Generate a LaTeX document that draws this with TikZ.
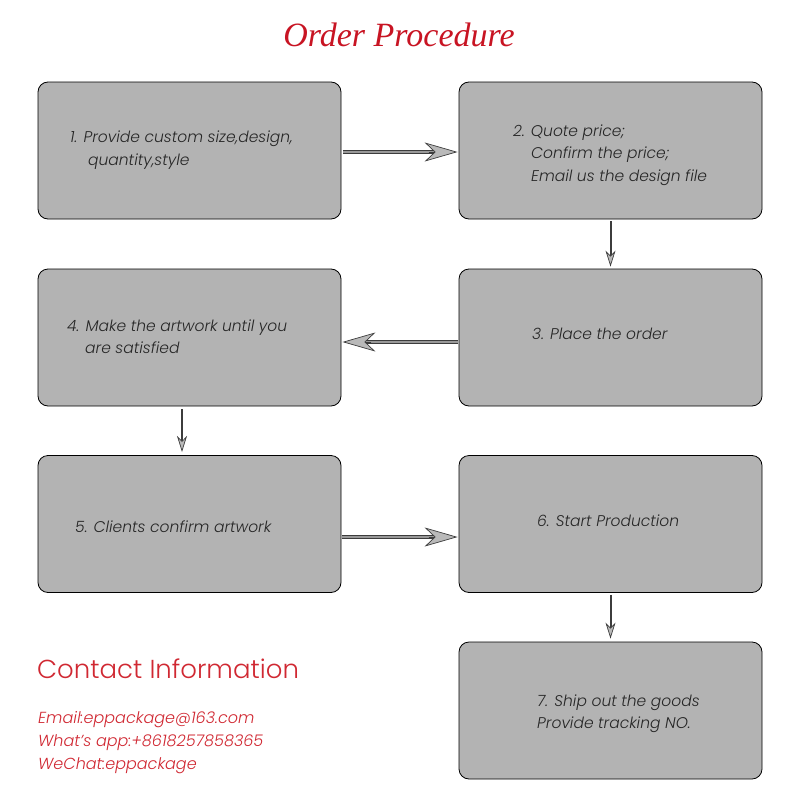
\documentclass[tikz,border=0pt]{standalone}
\usepackage{fontspec}
\setmainfont{Poppins}[UprightFont=* Light, ItalicFont=* Light Italic]
\newfontfamily\titlefont{Liberation Serif}
\usetikzlibrary{arrows.meta}
\definecolor{boxgray}{RGB}{179,179,179}
\definecolor{redtxt}{RGB}{208,40,50}
\definecolor{titlered}{RGB}{200,20,35}
\definecolor{shaftdark}{RGB}{60,60,60}
\definecolor{headfill}{RGB}{185,185,185}
\tikzset{
  stepbox/.style={draw=black, line width=0.8pt, fill=boxgray, rounded corners=10pt,
    minimum width=303pt, minimum height=137pt, inner sep=0pt},
  boxtext/.style={anchor=base west, inner sep=0pt, font=\fontsize{15.5}{18}\selectfont\itshape, text=black!85},
  contact/.style={anchor=base west, inner sep=0pt, font=\fontsize{16}{18}\selectfont\itshape, text=redtxt},
  hshaft/.style={draw=shaftdark, line width=1pt, double=gray!80, double distance=1.6pt},
  hhead/.style={draw=shaftdark, line width=0.7pt, -{Stealth[length=33pt,width=19pt,inset=10pt,fill=headfill]}},
  vshaft/.style={draw=shaftdark, line width=2pt},
  vhead/.style={draw=shaftdark, line width=0.7pt, -{Stealth[length=16pt,width=10pt,inset=5pt,fill=headfill]}}
}
\begin{document}
\begin{tikzpicture}[x=1pt,y=-1pt]
\useasboundingbox (0,0) rectangle (800,800);
\node[font=\titlefont\itshape\fontsize{34}{38}\selectfont, text=titlered] (title) at (399,35) {Order Procedure};

\node[stepbox] (b1) at (189.5,150.5) {};
\node[stepbox] (b2) at (610.5,150.5) {};
\node[stepbox] (b3) at (610.5,337.5) {};
\node[stepbox] (b4) at (189.5,337.5) {};
\node[stepbox] (b5) at (189.5,524) {};
\node[stepbox] (b6) at (610.5,524) {};
\node[stepbox] (b7) at (610.5,710.5) {};

\node[boxtext] (t1a) at (70,142) {1. Provide custom size,design,};
\node[boxtext] (t1b) at (88,165) {quantity,style};
\node[boxtext] (t2a) at (513,136) {2. Quote price;};
\node[boxtext] (t2b) at (531,158) {Confirm the price;};
\node[boxtext] (t2c) at (531,181) {Email us the design file};
\node[boxtext] (t3a) at (532,339) {3. Place the order};
\node[boxtext] (t4a) at (67,331) {4. Make the artwork until you};
\node[boxtext] (t4b) at (85,353) {are satisfied};
\node[boxtext] (t5a) at (75,532) {5. Clients confirm artwork};
\node[boxtext] (t6a) at (537,526) {6. Start Production};
\node[boxtext] (t7a) at (537,706) {7. Ship out the goods};
\node[boxtext] (t7b) at (537,728) {Provide tracking NO.};

% connectors
\draw[hshaft] ([xshift=2pt,yshift=-1.5pt]b1.east) -- ([xshift=-25pt,yshift=-1.5pt]b2.west);
\draw[hhead] ([xshift=-30pt,yshift=-1.5pt]b2.west) -- ([xshift=-1pt,yshift=-1.5pt]b2.west);
\draw[hshaft] ([xshift=-1pt,yshift=-4.5pt]b3.west) -- ([xshift=25pt,yshift=-4.5pt]b4.east);
\draw[hhead] ([xshift=30pt,yshift=-4.5pt]b4.east) -- ([xshift=1pt,yshift=-4.5pt]b4.east);
\draw[hshaft] ([xshift=1pt,yshift=-13pt]b5.east) -- ([xshift=-25pt,yshift=-13pt]b6.west);
\draw[hhead] ([xshift=-30pt,yshift=-13pt]b6.west) -- ([xshift=-1pt,yshift=-13pt]b6.west);

\draw[vshaft] ([yshift=-2pt]b2.south) -- ([yshift=12pt]b3.north);
\draw[vhead] ([yshift=14pt]b3.north) -- ([yshift=2pt]b3.north);
\coordinate (v2a) at (182,409);
\coordinate (v2b) at (182,453);
\draw[vshaft] (v2a) -- ([yshift=12pt]v2b);
\draw[vhead] ([yshift=14pt]v2b) -- ([yshift=1pt]v2b);
\draw[vshaft] ([yshift=-2pt]b6.south) -- ([yshift=12pt]b7.north);
\draw[vhead] ([yshift=14pt]b7.north) -- ([yshift=3pt]b7.north);

\node[anchor=base west, inner sep=0pt, font=\fontsize{26}{30}\selectfont, text=redtxt] (ci) at (37,678) {Contact Information};
\node[contact] (c1) at (38,723) {Email:eppackage@163.com};
\node[contact] (c2) at (38,746) {What’s app:+8618257858365};
\node[contact] (c3) at (38,769) {WeChat:eppackage};
\end{tikzpicture}
\end{document}
